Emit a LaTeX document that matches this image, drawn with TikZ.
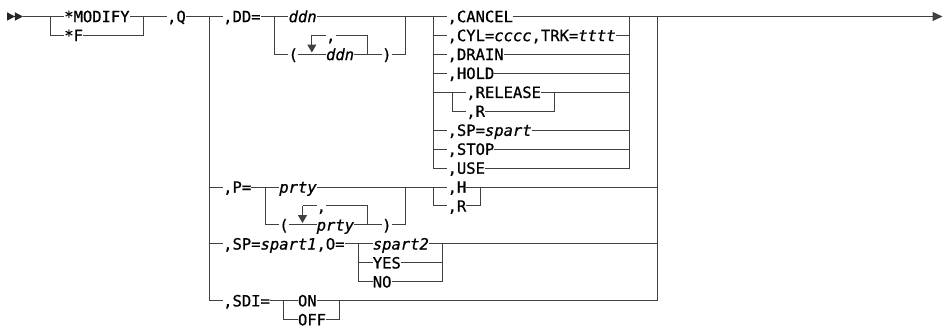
\documentclass[tikz,border=0pt]{standalone}
\usepackage{fontspec}
\usetikzlibrary{arrows.meta}
\newfontfamily\rrmono{DejaVu Sans Mono}[FakeBold=0.8,ItalicFont={DejaVu Sans Mono Oblique},ItalicFeatures={FakeBold=0.8}]
\newcommand\rrfont{\rrmono\fontsize{15.5pt}{19pt}\selectfont}
\tikzset{kw/.style={anchor=west,inner sep=0pt,text height=11.3pt,text depth=0pt,font=\rrfont},
 wire/.style={line width=1pt,draw=black!75},
 rep/.style={wire,-{Triangle[length=8pt,width=9pt]}},
 endarr/.style={wire,-{Triangle[length=10pt,width=9pt]}}}
\begin{document}
\begin{tikzpicture}[x=9.35pt,y=-18.95pt]
\useasboundingbox (0pt,0pt) rectangle (943pt,-328pt);
\begin{scope}[shift={(3.3pt,-16.5pt)}]
% lead-in and command name
\fill[black!85] (0.4,-0.22)--(1.25,0)--(0.4,0.22)--cycle (1.25,-0.22)--(2.1,0)--(1.25,0.22)--cycle;
\coordinate (in) at (2.1,0); \coordinate (ma) at (5,0); \coordinate (mz) at (15,0);
\node[kw] (mod) at (6.5,0) {*MODIFY};
\node[kw] (f) at (6.5,1) {*F};
\node[kw] (q) at (17.5,0) {,Q};
\draw[wire] (in)--(mod.west) (mod.east)--(q.west) (ma)|-(f.west) (f.east)-|(mz);
\coordinate (qa) at (22,0); \coordinate (qz) at (70,0); \coordinate (out) at (100.45,0);
% DD= operand with repeat loop
\coordinate (da) at (29,0); \coordinate (dz) at (43,0);
\coordinate (dl) at (33,1); \coordinate (dr) at (39,1); \coordinate (dv) at (33,1.9);
\node[kw] (dd) at (23.5,0) {,DD=};
\node[kw] (ddn) at (30.5,0) {\textit{ddn}};
\node[kw] (dlp) at (30.5,2) {(};
\node[kw] (dsep) at (34.5,1) {,};
\node[kw] (ddn2) at (34.5,2) {\textit{ddn}};
\node[kw] (drp) at (40.5,2) {)};
\draw[wire] (q.east)--(dd.west) (dd.east)--(ddn.west);
\draw[wire] (da)|-(dlp.west) (dlp.east)--(ddn2.west) (ddn2.east)--(drp.west) (drp.east)-|(dz);
\draw[wire] (dl)--(dsep.west) (dsep.east)-|(dr|-ddn2.east);
\draw[rep] (dl)--(dv);
% actions
\coordinate (ca) at (46,0); \coordinate (cz) at (67,0);
\node[kw] (cn) at (47.5,0) {,CANCEL};
\foreach \r/\n/\txt in {1/cyl/{,CYL=\textit{cccc},TRK=\textit{tttt}},2/drn/{,DRAIN},3/hld/{,HOLD},6/spp/{,SP=\textit{spart}},7/stp/{,STOP}}{
  \node[kw] (\n) at (47.5,\r) {\txt};
  \draw[wire] (\n.west-|ca)--(\n.west) (\n.east)--(\n.east-|cz);}
\node[kw] (use) at (47.5,8) {,USE};
\coordinate (ra) at (48,4); \coordinate (rz) at (59,4);
\node[kw] (rel) at (49.5,4) {,RELEASE};
\node[kw] (rr) at (49.5,5) {,R};
\draw[wire] (ra-|ca)--(rel.west) (ra)|-(rr.west) (rr.east)-|(rz) (rel.east)--(rel.east-|cz);
\draw[wire] (ddn.east)--(cn.west) (ca)|-(use.west) (use.east)-|(cz);
\draw[endarr] (cn.east)--(out);
% P= operand
\coordinate (pa) at (28,9); \coordinate (pz) at (43,9);
\coordinate (pl) at (32,10); \coordinate (pr) at (39,10); \coordinate (pv) at (32,10.9);
\node[kw] (p) at (23.5,9) {,P=};
\node[kw] (prty) at (29.5,9) {\textit{prty}};
\node[kw] (plp) at (29.5,11) {(};
\node[kw] (psep) at (33.5,10) {,};
\node[kw] (prty2) at (33.5,11) {\textit{prty}};
\node[kw] (prp) at (40.5,11) {)};
\coordinate (ha) at (46,9); \coordinate (hz) at (51,9);
\node[kw] (h) at (47.5,9) {,H};
\node[kw] (hr) at (47.5,10) {,R};
\draw[wire] (p.west-|qa)--(p.west) (p.east)--(prty.west) (prty.east)--(h.west) (h.east)--(h.east-|qz);
\draw[wire] (pa)|-(plp.west) (plp.east)--(prty2.west) (prty2.east)--(prp.west) (prp.east)-|(pz);
\draw[wire] (pl)--(psep.west) (psep.east)-|(pr|-prty2.east);
\draw[rep] (pl)--(pv);
\draw[wire] (ha)|-(hr.west) (hr.east)-|(hz);
% SP= operand
\coordinate (oa) at (38,12); \coordinate (oz) at (47,12);
\node[kw] (sp) at (23.5,12) {,SP=\textit{spart1},O=};
\node[kw] (sp2) at (39.5,12) {\textit{spart2}};
\node[kw] (yes) at (39.5,13) {YES};
\node[kw] (no) at (39.5,14) {NO};
\draw[wire] (sp.west-|qa)--(sp.west) (sp.east)--(sp2.west) (sp2.east)--(sp2.east-|qz);
\draw[wire] (oa)|-(no.west) (yes.west-|oa)--(yes.west) (yes.east)--(yes.east-|oz) (no.east)-|(oz);
% SDI= operand
\coordinate (sa) at (30,15); \coordinate (sz) at (36,15);
\node[kw] (sdi) at (23.5,15) {,SDI=};
\node[kw] (on) at (31.5,15) {ON};
\node[kw] (off) at (31.5,16) {OFF};
\draw[wire] (qa)|-(sdi.west) (sdi.east)--(on.west) (on.east)-|(qz);
\draw[wire] (sa)|-(off.west) (off.east)-|(sz);
\end{scope}
\end{tikzpicture}
\end{document}
